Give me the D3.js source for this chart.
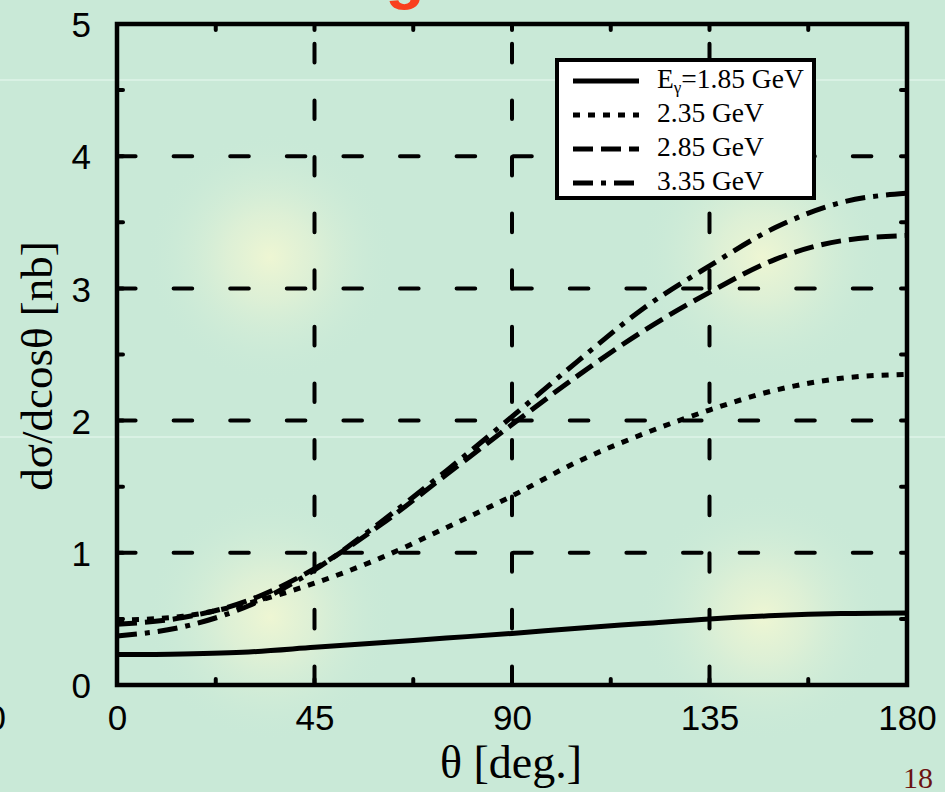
<!DOCTYPE html>
<html>
<head>
<meta charset="utf-8">
<script src="https://cdn.jsdelivr.net/npm/d3@7"></script>
<style>
  html, body { margin: 0; padding: 0; background: #c9e9d7; }
  svg { display: block; }
</style>
</head>
<body>
<svg id="chart" width="945" height="792"></svg>
<script>
// ---- data ----
const thetaTicks = [0, 45, 90, 135, 180];
const yTicks = [0, 1, 2, 3, 4, 5];
const theta = [0, 15, 30, 45, 60, 75, 90, 105, 120, 135, 150, 165, 180];
const sigma185 = [0.23, 0.235, 0.25, 0.285, 0.32, 0.355, 0.39, 0.43, 0.465, 0.50, 0.525, 0.54, 0.545];
const sigma235 = [0.49, 0.52, 0.62, 0.77, 0.96, 1.19, 1.43, 1.69, 1.90, 2.08, 2.23, 2.32, 2.35];
const sigma285 = [0.46, 0.51, 0.64, 0.88, 1.21, 1.59, 1.97, 2.34, 2.68, 2.97, 3.22, 3.36, 3.40];
const sigma335 = [0.37, 0.44, 0.60, 0.87, 1.23, 1.62, 2.03, 2.45, 2.85, 3.17, 3.46, 3.65, 3.72];
const energies = ["1.85", "2.35", "2.85", "3.35"];
const xLabel = "θ [deg.]";
const yLabel = "dσ/dcosθ [nb]";

const seriesValues = [sigma185, sigma235, sigma285, sigma335];
const dashes = [null, "7 8", "20 8", "20 8 5 8"];

const svg = d3.select("#chart");
const W = 945, H = 792;

// ---- background with glows ----
const defs = svg.append("defs");
const glow = defs.append("radialGradient").attr("id", "glow");
glow.append("stop").attr("offset", "0%").attr("stop-color", "#eef6d3").attr("stop-opacity", 1);
glow.append("stop").attr("offset", "35%").attr("stop-color", "#e4f2d5").attr("stop-opacity", 0.75);
glow.append("stop").attr("offset", "70%").attr("stop-color", "#d6eed7").attr("stop-opacity", 0.35);
glow.append("stop").attr("offset", "100%").attr("stop-color", "#c9e9d7").attr("stop-opacity", 0);
svg.append("rect").attr("width", W).attr("height", H).attr("fill", "#c9e9d7");
[[270, 257], [762, 257], [270, 617], [763, 617]].forEach(([cx, cy]) => {
  svg.append("circle").attr("cx", cx).attr("cy", cy).attr("r", 125).attr("fill", "url(#glow)");
});
// faint slide lines
[80, 437].forEach(yy => {
  svg.append("rect").attr("x", 0).attr("y", yy - 1).attr("width", W).attr("height", 2)
    .attr("fill", "#d9f1e4");
});

// title remnant and page number
svg.append("text").attr("x", 405).attr("y", -3).attr("text-anchor", "middle")
  .attr("font-family", "Liberation Sans, Arial, sans-serif").attr("font-weight", "bold")
  .attr("font-size", 64).attr("fill", "#f9401e").text("g");
svg.append("text").attr("x", 6).attr("y", 730).attr("text-anchor", "end")
  .attr("font-family", "Liberation Sans, Arial, sans-serif")
  .attr("font-size", 35).attr("fill", "#000").text("0");
svg.append("text").attr("x", 918).attr("y", 788).attr("text-anchor", "middle")
  .attr("font-family", "Liberation Serif, Times New Roman, serif")
  .attr("font-size", 30).attr("fill", "#6b1212").text("18");

// ---- scales ----
const x = d3.scaleLinear().domain([0, 180]).range([117, 907]);
const y = d3.scaleLinear().domain([0, 5]).range([685, 24]);

// ---- grid ----
const grid = svg.append("g").attr("stroke", "#000").attr("stroke-width", 4)
  .attr("stroke-linecap", "round").attr("stroke-dasharray", "18.6 38").attr("fill", "none");
[1, 2, 3, 4].forEach(v => {
  grid.append("line").attr("x1", x(0)).attr("x2", x(180)).attr("y1", y(v)).attr("y2", y(v));
});
[45, 90, 135].forEach(t => {
  grid.append("line").attr("x1", x(t)).attr("x2", x(t)).attr("y1", y(0)).attr("y2", y(5));
});

// ---- inner ticks ----
const ticks = svg.append("g").attr("stroke", "#000").attr("stroke-width", 4).attr("stroke-linecap", "round");
d3.range(0, 180.1, 22.5).forEach(t => {
  ticks.append("line").attr("x1", x(t)).attr("x2", x(t)).attr("y1", y(0)).attr("y2", y(0) - 6);
  ticks.append("line").attr("x1", x(t)).attr("x2", x(t)).attr("y1", y(5)).attr("y2", y(5) + 6);
});
d3.range(0, 5.01, 0.5).forEach(v => {
  ticks.append("line").attr("x1", x(0)).attr("x2", x(0) + 6).attr("y1", y(v)).attr("y2", y(v));
  ticks.append("line").attr("x1", x(180)).attr("x2", x(180) - 6).attr("y1", y(v)).attr("y2", y(v));
});

// ---- curves ----
const line = d3.line().x(d => x(d[0])).y(d => y(d[1])).curve(d3.curveMonotoneX);
seriesValues.forEach((vals, i) => {
  const pts = theta.map((t, k) => [t, vals[k]]);
  svg.append("path").datum(pts).attr("d", line)
    .attr("fill", "none").attr("stroke", "#000").attr("stroke-width", 5)
    .attr("stroke-dasharray", dashes[i]);
});

// ---- frame ----
svg.append("rect").attr("x", x(0)).attr("y", y(5)).attr("width", x(180) - x(0)).attr("height", y(0) - y(5))
  .attr("fill", "none").attr("stroke", "#000").attr("stroke-width", 4.5);

// ---- axes labels ----
const xAxis = svg.append("g").attr("transform", `translate(0,${y(0)})`)
  .call(d3.axisBottom(x).tickValues(thetaTicks).tickSize(0).tickFormat(d3.format("d")));
xAxis.select(".domain").remove();
xAxis.selectAll("text").attr("y", 45).attr("dy", 0)
  .attr("font-family", "Liberation Sans, Arial, sans-serif").attr("font-size", 35).attr("fill", "#000");

const yAxis = svg.append("g").attr("transform", `translate(${x(0)},0)`)
  .call(d3.axisLeft(y).tickValues(yTicks).tickSize(0).tickPadding(26).tickFormat(d3.format("d")));
yAxis.select(".domain").remove();
yAxis.selectAll("text").attr("dy", "0.36em")
  .attr("font-family", "Liberation Sans, Arial, sans-serif").attr("font-size", 35).attr("fill", "#000");

svg.append("text").attr("x", 511).attr("y", 778).attr("text-anchor", "middle")
  .attr("font-family", "Liberation Serif, Times New Roman, serif").attr("font-size", 46)
  .attr("fill", "#000").text(xLabel);
svg.append("text").attr("transform", "translate(52,366) rotate(-90)").attr("text-anchor", "middle")
  .attr("font-family", "Liberation Serif, Times New Roman, serif").attr("font-size", 45)
  .attr("fill", "#000").text(yLabel);

// ---- legend ----
const lg = svg.append("g");
lg.append("rect").attr("x", 557).attr("y", 60).attr("width", 257).attr("height", 138)
  .attr("fill", "#fff").attr("stroke", "#000").attr("stroke-width", 4);
energies.forEach((e, i) => {
  const by = 88 + i * 34;
  lg.append("line").attr("x1", 573).attr("x2", 639).attr("y1", by - 7).attr("y2", by - 7)
    .attr("stroke", "#000").attr("stroke-width", 5).attr("stroke-dasharray", dashes[i]);
  const t = lg.append("text").attr("x", 657).attr("y", by)
    .attr("font-family", "Liberation Serif, Times New Roman, serif").attr("font-size", 27.5).attr("fill", "#000");
  if (i === 0) {
    t.append("tspan").text("E");
    t.append("tspan").attr("font-size", 17).attr("dy", 5).text("γ");
    t.append("tspan").attr("dy", -5).text("=" + e + " GeV");
  } else {
    t.text(e + " GeV");
  }
});
</script>
</body>
</html>
